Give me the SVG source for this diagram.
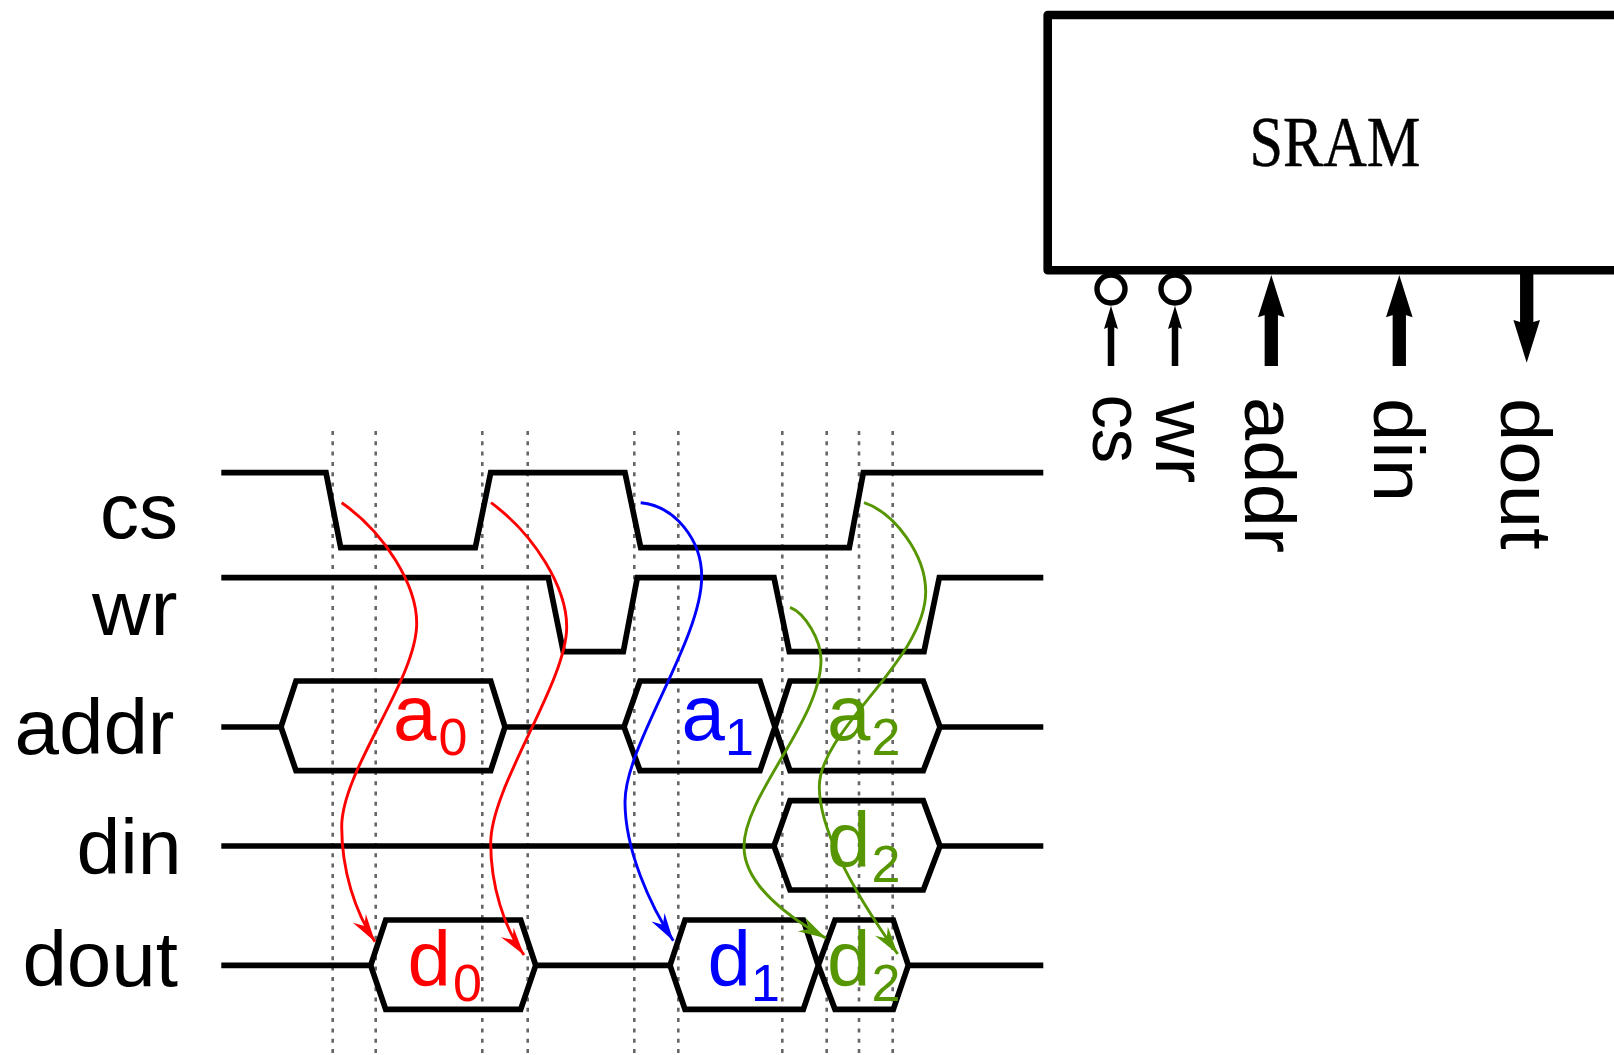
<svg xmlns="http://www.w3.org/2000/svg" width="1614" height="1055" viewBox="0 0 1614 1055">
<style>
.sig{fill:none;stroke:#000;stroke-width:5.7;stroke-linejoin:miter}
.guide{fill:none;stroke:#666;stroke-width:2.6;stroke-dasharray:4 6.3}
.lab{font-family:"Liberation Sans",Arial,sans-serif;font-size:78px;fill:#000}
.sub{font-size:52px}
.r{fill:#f00}.b{fill:#00f}.g{fill:#569600}
.cur{fill:none;stroke-width:2.9}
.cr{stroke:#f00;marker-end:url(#mr)}.cb{stroke:#00f;marker-end:url(#mb)}.cg{stroke:#569600;marker-end:url(#mg)}
.thin{stroke:#000;stroke-width:6.5;fill:none}.thick{stroke:#000;stroke-width:13.3;fill:none}
.bub{fill:none;stroke:#000;stroke-width:5.4}
</style>
<defs>
<marker id="mr" markerUnits="userSpaceOnUse" markerWidth="40" markerHeight="24" refX="30" refY="12" orient="auto" overflow="visible"><path d="M30 12L2 4.2L11 12L2 19.8Z" fill="#f00"/></marker>
<marker id="mb" markerUnits="userSpaceOnUse" markerWidth="40" markerHeight="24" refX="30" refY="12" orient="auto" overflow="visible"><path d="M30 12L2 4.2L11 12L2 19.8Z" fill="#00f"/></marker>
<marker id="mg" markerUnits="userSpaceOnUse" markerWidth="40" markerHeight="24" refX="30" refY="12" orient="auto" overflow="visible"><path d="M30 12L2 4.2L11 12L2 19.8Z" fill="#569600"/></marker>
</defs>
<rect width="1614" height="1055" fill="#fff"/>
<g id="guides">
<path class="guide" d="M332.7 431V1055M375.7 431V1055M482.3 431V1055M527.7 431V1055M634.3 431V1055M678.3 431V1055M782.3 431V1055M826.7 431V1055M859 431V1055M892.7 431V1055"/>
</g>
<g id="sram">
<path d="M1614 15H1047.7V270.3H1614" fill="none" stroke="#000" stroke-width="8.6" stroke-linejoin="round"/>
<text x="1249.5" y="165.7" font-family="'Liberation Serif','Times New Roman',serif" font-size="71" textLength="171" lengthAdjust="spacingAndGlyphs" stroke="#000" stroke-width="0.5">SRAM</text>
</g>
<g id="port-cs">
<circle class="bub" cx="1111" cy="289" r="14"/>
<path class="thin" d="M1111 366V325"/>
<path d="M1111 305.7L1118 329L1111 326L1104 329Z"/>
<text class="lab" transform="translate(1092.5 394.5) rotate(90) scale(.88 .93)">cs</text>
</g>
<g id="port-wr">
<circle class="bub" cx="1175" cy="289" r="14"/>
<path class="thin" d="M1175 366V325"/>
<path d="M1175 305.7L1182 329L1175 326L1168 329Z"/>
<text class="lab" transform="translate(1155.7 401) rotate(90) scale(1 .93)">wr</text>
</g>
<g id="port-addr">
<path class="thick" d="M1271.3 366V312"/>
<path d="M1271.3 275L1284.6 317.3L1271.3 313L1258 317.3Z"/>
<text class="lab" transform="translate(1245 397) rotate(90) scale(1 .93)">addr</text>
</g>
<g id="port-din">
<path class="thick" d="M1399.3 366V312"/>
<path d="M1399.3 275L1412.6 317.3L1399.3 313L1386 317.3Z"/>
<text class="lab" transform="translate(1373.5 398) rotate(90) scale(1 .93)">din</text>
</g>
<g id="port-dout">
<path class="thick" d="M1526.7 274V325"/>
<path d="M1526.7 362.7L1540 320L1526.7 324L1513.4 320Z"/>
<text class="lab" transform="translate(1501 398) rotate(90) scale(1 .93)">dout</text>
</g>
<g id="sig-cs">
<path class="sig" d="M221.3 472.7H326L340.7 547.7H475.3L490.7 472.7H625L640.7 547.7H849.3L863.3 472.7H1043.3"/>
<text class="lab" x="178" y="538" text-anchor="end">cs</text>
</g>
<g id="sig-wr">
<path class="sig" d="M221.3 577.7H548.3L563.3 651.7H623.3L637.3 577.7H774L789.3 651.7H924L939.3 577.7H1043.3"/>
<text class="lab" text-anchor="end" transform="translate(177.5 634.5) scale(1.04 1)">wr</text>
</g>
<g id="sig-addr">
<path class="sig" d="M221.3 727H281L296 681H490.7L505 727L490.7 770.7H296L281 727M505 727H624L640 681H760L775 727L760 770.7H640L624 727M775 727L790 681H923.3L940 727L923.3 770.7H790L775 727M940 727H1043.3"/>
<text class="lab" text-anchor="end" transform="translate(174.5 754) scale(1.025 1)">addr</text>
<text class="lab r" x="393" y="740">a<tspan class="sub" dx="2" dy="15">0</tspan></text>
<text class="lab b" x="681.5" y="740">a<tspan class="sub" dy="15">1</tspan></text>
<text class="lab g" x="827" y="740">a<tspan class="sub" dx="1" dy="15">2</tspan></text>
</g>
<g id="sig-din">
<path class="sig" d="M221.3 846H774L790 800.7H923.3L940 846L923.3 890H790L774 846M940 846H1043.3"/>
<text class="lab" text-anchor="end" transform="translate(181.5 873.5) scale(1.01 1)">din</text>
<text class="lab g" x="827" y="866.7">d<tspan class="sub" dx="1" dy="15">2</tspan></text>
</g>
<g id="sig-dout">
<path class="sig" d="M221.3 965.3H370.7L385.7 920H520.7L535.7 965.3L520.7 1009.3H385.7L370.7 965.3M535.7 965.3H670L685 920H803.3L818.3 965.3L803.3 1009.3H685L670 965.3M818.3 965.3L835 920H893.3L908.3 965.3L893.3 1009.3H835L818.3 965.3M908.3 965.3H1043.3"/>
<text class="lab" text-anchor="end" transform="translate(178 985.5) scale(1.025 1)">dout</text>
<text class="lab r" x="407.5" y="986">d<tspan class="sub" dx="2" dy="15">0</tspan></text>
<text class="lab b" x="707.5" y="986">d<tspan class="sub" dy="15">1</tspan></text>
<text class="lab g" x="827" y="986">d<tspan class="sub" dx="1" dy="15">2</tspan></text>
</g>
<g id="connectors">
<path class="cur cr" d="M341.7 502.7C385 533 416.7 585 416.7 623.3C416.7 680 341.7 770 341.7 826.7C341.7 870 355 912 375 941.7"/>
<path class="cur cr" d="M491 502.7C535 535 566.7 588 566.7 626.7C566.7 683 490.7 786 490.7 843C490.7 885 504 928 524 955"/>
<path class="cur cb" d="M640.7 502.7C675 506 701.7 540 701.7 576.7C701.7 640 625 745 625 801.7C625 850 650 905 673.3 940.7"/>
<path class="cur cg" d="M864 502.7C895 513 925.7 555 925.7 591.7C925.7 660 819.3 730 819.3 786.7C819.3 840 870 915 897.7 954"/>
<path class="cur cg" d="M790 607.3C805 613 821 640 821 660C821 720 744 795 744 846.7C744 885 790 918 826 938.3"/>
</g>
</svg>
